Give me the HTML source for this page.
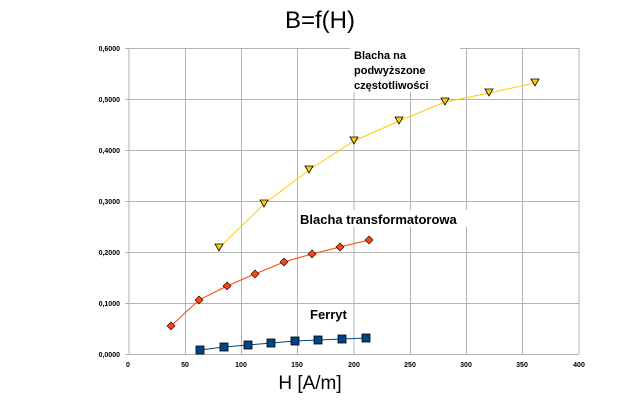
<!DOCTYPE html>
<html><head><meta charset="utf-8"><style>
body{margin:0;background:#fff;}
svg{display:block;font-family:"Liberation Sans",sans-serif;}
</style></head><body>
<svg width="640" height="400" viewBox="0 0 640 400">
<rect width="640" height="400" fill="#fff"/>
<g stroke="#b3b3b3" stroke-width="1">
<line x1="129" y1="48" x2="129" y2="354"/><line x1="185.5" y1="48" x2="185.5" y2="354"/><line x1="241.5" y1="48" x2="241.5" y2="354"/><line x1="297.5" y1="48" x2="297.5" y2="354"/><line x1="354" y1="48" x2="354" y2="354"/><line x1="410.5" y1="48" x2="410.5" y2="354"/><line x1="466.5" y1="48" x2="466.5" y2="354"/><line x1="522.5" y1="48" x2="522.5" y2="354"/><line x1="579" y1="48" x2="579" y2="354"/>
<line x1="125" y1="48.5" x2="579" y2="48.5"/><line x1="125" y1="99.5" x2="579" y2="99.5"/><line x1="125" y1="150.5" x2="579" y2="150.5"/><line x1="125" y1="201.5" x2="579" y2="201.5"/><line x1="125" y1="252.5" x2="579" y2="252.5"/><line x1="125" y1="303.5" x2="579" y2="303.5"/><line x1="125" y1="354.5" x2="579" y2="354.5"/>
</g>
<g font-size="7" font-weight="bold" fill="#000" text-anchor="end">
<text x="120" y="51">0,6000</text><text x="120" y="102">0,5000</text><text x="120" y="153">0,4000</text><text x="120" y="204">0,3000</text><text x="120" y="255">0,2000</text><text x="120" y="306">0,1000</text><text x="120" y="357">0,0000</text>
</g>
<g font-size="7" font-weight="bold" fill="#000" text-anchor="middle">
<text x="128" y="367">0</text><text x="185" y="367">50</text><text x="241" y="367">100</text><text x="297" y="367">150</text><text x="354" y="367">200</text><text x="410" y="367">250</text><text x="466" y="367">300</text><text x="522" y="367">350</text><text x="579" y="367">400</text>
</g>
<text x="320" y="28" font-size="24" text-anchor="middle">B=f(H)</text>
<text x="310" y="389" font-size="19" text-anchor="middle">H [A/m]</text>
<rect x="350" y="44" width="110" height="48" fill="#fff"/>
<g font-size="11" font-weight="bold"><text x="354" y="59">Blacha na</text><text x="354" y="74">podwyższone</text><text x="354" y="89">częstotliwości</text></g>
<rect x="298" y="210" width="188" height="17" fill="#fff"/>
<text x="300" y="224" font-size="13" font-weight="bold">Blacha transformatorowa</text>
<rect x="308" y="305" width="38" height="16" fill="#fff"/>
<text x="310" y="319" font-size="13" font-weight="bold">Ferryt</text>
<polyline fill="none" stroke="#ffcc00" stroke-width="1" points="219,248 264,204 309,170 354,141 399,121 445,102 489,93 535,83"/>
<g fill="#ffcc00" stroke="#000" stroke-width="0.8">
<polygon points="215,244 223,244 219,251"/><polygon points="260,200 268,200 264,207"/><polygon points="305,166 313,166 309,173"/><polygon points="350,137 358,137 354,144"/><polygon points="395,117 403,117 399,124"/><polygon points="441,98 449,98 445,105"/><polygon points="485,89 493,89 489,96"/><polygon points="531,79 539,79 535,86"/>
</g>
<polyline fill="none" stroke="#ff4400" stroke-width="1" points="171,326 199,300 227,286 255,274 284,262 312,254 340,247 369,240"/>
<g fill="#ff4411" stroke="#000" stroke-width="0.6">
<polygon points="171,322 175,326 171,330 167,326"/><polygon points="199,296 203,300 199,304 195,300"/><polygon points="227,282 231,286 227,290 223,286"/><polygon points="255,270 259,274 255,278 251,274"/><polygon points="284,258 288,262 284,266 280,262"/><polygon points="312,250 316,254 312,258 308,254"/><polygon points="340,243 344,247 340,251 336,247"/><polygon points="369,236 373,240 369,244 365,240"/>
</g>
<polyline fill="none" stroke="#004586" stroke-width="1" points="200,350 224,347 248,345 271,343 295,341 318,340 342,339 366,338"/>
<g fill="#004586" stroke="#000" stroke-width="0.8">
<rect x="196" y="346" width="8" height="8"/><rect x="220" y="343" width="8" height="8"/><rect x="244" y="341" width="8" height="8"/><rect x="267" y="339" width="8" height="8"/><rect x="291" y="337" width="8" height="8"/><rect x="314" y="336" width="8" height="8"/><rect x="338" y="335" width="8" height="8"/><rect x="362" y="334" width="8" height="8"/>
</g>
</svg>
</body></html>
